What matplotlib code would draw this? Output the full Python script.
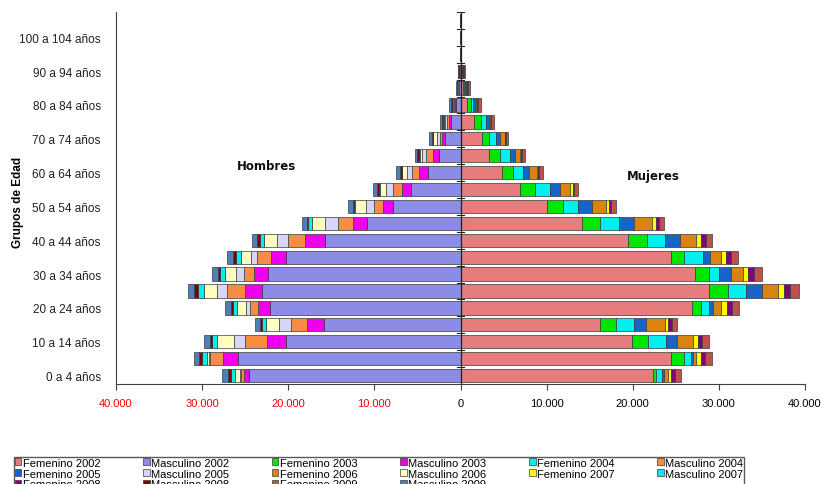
import matplotlib
matplotlib.use("Agg")
import matplotlib.pyplot as plt
import numpy as np

# Grupos de edad (22 categorias, se rotula una de cada dos)
grupos = ["0 a 4 años", "5 a 9 años", "10 a 14 años", "15 a 19 años", "20 a 24 años",
          "25 a 29 años", "30 a 34 años", "35 a 39 años", "40 a 44 años", "45 a 49 años",
          "50 a 54 años", "55 a 59 años", "60 a 64 años", "65 a 69 años", "70 a 74 años",
          "75 a 79 años", "80 a 84 años", "85 a 89 años", "90 a 94 años", "95 a 99 años",
          "100 a 104 años", "105 y más años"]

# Hombres (miles de personas)
masc_2002 = [24.6, 25.8, 20.3, 15.9, 22.1, 23.0, 22.4, 20.3, 15.7, 10.8, 7.8, 5.7, 3.8, 2.5, 1.75, 1.05, 0.5, 0.15, 0.05, 0.01, 0.005, 0.003]
masc_2003 = [0.5, 1.8, 2.2, 1.9, 1.4, 2.0, 1.6, 1.7, 2.3, 1.7, 1.2, 1.1, 1.05, 0.7, 0.4, 0.3, 0.15, 0.05, 0.02, 0.005, 0.003, 0.002]
masc_2004 = [0.4, 1.5, 2.5, 1.9, 0.9, 2.1, 1.1, 1.6, 2.0, 1.7, 1.1, 1.0, 0.75, 0.8, 0.2, 0.2, 0.1, 0.05, 0.02, 0.005, 0.003, 0.002]
masc_2005 = [0.1, 0.15, 1.3, 1.4, 0.5, 1.2, 1.0, 0.7, 1.3, 1.5, 0.9, 0.8, 0.6, 0.45, 0.4, 0.2, 0.1, 0.05, 0.02, 0.005, 0.003, 0.002]
masc_2006 = [0.6, 0.15, 2.0, 1.5, 1.0, 1.5, 1.2, 1.2, 1.5, 1.6, 1.2, 0.8, 0.6, 0.3, 0.4, 0.2, 0.1, 0.05, 0.02, 0.005, 0.003, 0.002]
masc_2007 = [0.5, 0.65, 0.5, 0.5, 0.5, 0.7, 0.6, 0.6, 0.5, 0.35, 0.2, 0.1, 0.05, 0.05, 0.05, 0.05, 0.05, 0.02, 0.01, 0.005, 0.003, 0.002]
masc_2008 = [0.3, 0.3, 0.3, 0.2, 0.3, 0.4, 0.3, 0.3, 0.3, 0.2, 0.1, 0.15, 0.2, 0.2, 0.15, 0.1, 0.15, 0.08, 0.1, 0.01, 0.005, 0.003]
masc_2009 = [0.7, 0.65, 0.7, 0.6, 0.7, 0.7, 0.6, 0.7, 0.6, 0.5, 0.6, 0.5, 0.4, 0.3, 0.3, 0.3, 0.2, 0.1, 0.1, 0.02, 0.01, 0.005]

# Mujeres
fem_2002 = [22.3, 24.4, 19.9, 16.2, 26.9, 28.9, 27.25, 24.4, 19.4, 14.1, 10.0, 6.9, 4.8, 3.35, 2.45, 1.6, 0.8, 0.3, 0.1, 0.02, 0.005, 0.003]
fem_2003 = [0.4, 1.6, 1.85, 1.9, 1.0, 2.2, 1.6, 1.6, 2.3, 2.15, 1.9, 1.75, 1.35, 1.25, 0.85, 0.75, 0.4, 0.15, 0.05, 0.01, 0.003, 0.002]
fem_2004 = [0.75, 0.8, 2.15, 2.0, 1.0, 2.05, 1.2, 2.1, 2.05, 2.2, 1.8, 1.7, 1.05, 1.15, 0.8, 0.65, 0.3, 0.1, 0.03, 0.01, 0.003, 0.002]
fem_2005 = [0.2, 0.25, 1.25, 1.45, 0.4, 1.85, 1.3, 0.85, 1.75, 1.75, 1.55, 1.15, 0.8, 0.6, 0.5, 0.3, 0.2, 0.1, 0.03, 0.01, 0.003, 0.002]
fem_2006 = [0.4, 0.25, 1.8, 2.15, 1.0, 1.9, 1.45, 1.3, 1.8, 2.0, 1.6, 1.25, 0.9, 0.6, 0.55, 0.15, 0.15, 0.1, 0.03, 0.01, 0.003, 0.002]
fem_2007 = [0.4, 0.6, 0.6, 0.4, 0.6, 0.7, 0.6, 0.6, 0.6, 0.45, 0.4, 0.3, 0.15, 0.1, 0.05, 0.05, 0.05, 0.02, 0.01, 0.005, 0.002, 0.002]
fem_2008 = [0.4, 0.5, 0.45, 0.45, 0.6, 0.65, 0.65, 0.6, 0.6, 0.45, 0.25, 0.15, 0.1, 0.1, 0.05, 0.05, 0.15, 0.1, 0.1, 0.02, 0.005, 0.003]
fem_2009 = [0.7, 0.8, 0.8, 0.6, 0.8, 1.0, 0.9, 0.8, 0.65, 0.5, 0.6, 0.45, 0.4, 0.35, 0.3, 0.3, 0.35, 0.2, 0.15, 0.03, 0.01, 0.005]

anios = ["2002", "2003", "2004", "2005", "2006", "2007", "2008", "2009"]
masculino = [masc_2002, masc_2003, masc_2004, masc_2005, masc_2006, masc_2007, masc_2008, masc_2009]
femenino = [fem_2002, fem_2003, fem_2004, fem_2005, fem_2006, fem_2007, fem_2008, fem_2009]

col_masc = ["#8C8CE6", "#EE00EE", "#F98C45", "#D6D6F8", "#FFFFC4", "#00EEEE", "#800000", "#4F7FB8"]
col_fem = ["#E67C7C", "#00E600", "#00F0F0", "#1565C8", "#D98410", "#FFFF00", "#800080", "#C0504D"]

plt.rcParams['font.family'] = ['Liberation Sans', 'DejaVu Sans']

fig = plt.figure(figsize=(8.21, 4.85), dpi=100)
ax = fig.add_axes([116 / 821, 1 - 385 / 485, 689 / 821, 372 / 485])

y = np.arange(len(grupos))
alto = 0.78
borde = "#3A3A3A"

h_masc = []
izq = np.zeros(len(grupos))
for anio, vals, c in zip(anios, masculino, col_masc):
    v = np.array(vals) * 1000
    b = ax.barh(y, -v, left=-izq, height=alto, color=c, edgecolor=borde, linewidth=0.5,
                label="Masculino " + anio)
    h_masc.append(b)
    izq = izq + v

h_fem = []
der = np.zeros(len(grupos))
for anio, vals, c in zip(anios, femenino, col_fem):
    v = np.array(vals) * 1000
    b = ax.barh(y, v, left=der, height=alto, color=c, edgecolor=borde, linewidth=0.5,
                label="Femenino " + anio)
    h_fem.append(b)
    der = der + v

ax.set_xlim(-40000, 40000)
ax.set_ylim(-0.5, len(grupos) - 0.5)

# eje central con marcas de categoria
ax.axvline(0, color="#202020", linewidth=0.9, zorder=5)
for lim in np.arange(-0.5, len(grupos), 1.0):
    ax.plot([-350, 350], [lim, lim], color="#202020", linewidth=0.8, zorder=5)

ax.spines['top'].set_visible(False)
ax.spines['right'].set_visible(False)
ax.spines['left'].set_color("#404040")
ax.spines['bottom'].set_color("#404040")

ax.set_yticks(y[::2])
ax.set_yticklabels(grupos[::2], fontsize=8.5, color="#202020")
ax.tick_params(axis='y', length=0, pad=11)

xt = np.arange(-40000, 40001, 10000)
ax.set_xticks(xt)
ax.set_xticklabels(["{:,}".format(abs(int(t))).replace(",", ".") for t in xt], fontsize=8)
for lab, t in zip(ax.get_xticklabels(), xt):
    lab.set_color("#FF0000" if t < 0 else "#000000")
ax.tick_params(axis='x', length=4, width=0.8, color="#404040", pad=6)

ax.set_ylabel("Grupos de Edad", fontsize=8.5, fontweight='bold')
ax.yaxis.set_label_coords(-0.133, 0.49)

ax.text(-22500, 12.4, "Hombres", fontsize=8.5, fontweight='bold', ha='center', va='center',
        family='DejaVu Sans', color="#101010")
ax.text(22400, 11.85, "Mujeres", fontsize=8.5, fontweight='bold', ha='center', va='center',
        family='DejaVu Sans', color="#101010")

# leyenda en filas: Femenino / Masculino alternados
orden = []
for f, m in zip(h_fem, h_masc):
    orden.append(f)
    orden.append(m)
filas = [orden[i:i + 6] for i in range(0, len(orden), 6)]
cols = []
for c in range(6):
    for fila in filas:
        if c < len(fila):
            cols.append(fila[c])
leg = fig.legend(cols, [h.get_label() for h in cols], ncol=6, loc='upper left',
                 bbox_to_anchor=(8 / 821, -0.2, 742 / 821, 0.2 + 33 / 485), mode='expand',
                 fontsize=8, handlelength=0.6, handleheight=0.6, handletextpad=0.15,
                 labelspacing=0.08, borderpad=0.1, columnspacing=0.5,
                 fancybox=False, frameon=True, edgecolor="#303030")
leg.get_frame().set_linewidth(1.0)

fig.savefig("out.png", dpi=100)
